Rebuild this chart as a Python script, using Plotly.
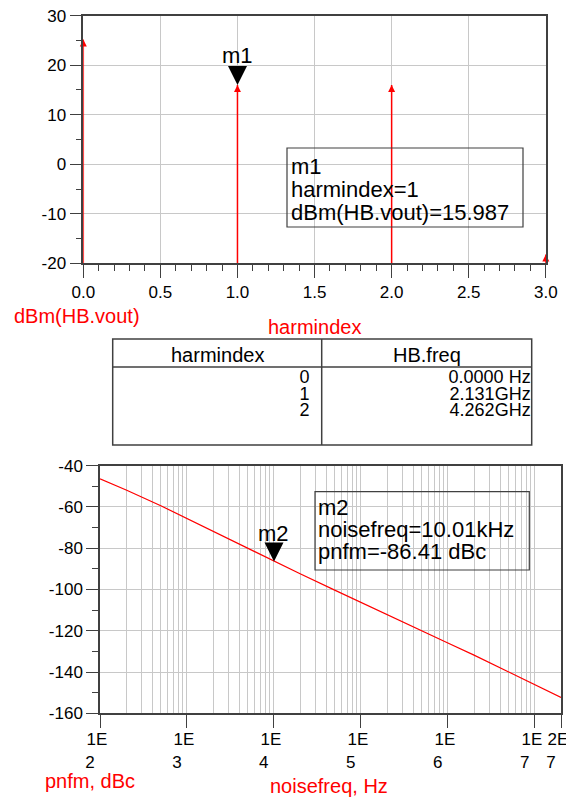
import math
import plotly.graph_objects as go

# ---------------- data ----------------
harmindex = [0, 1, 2, 3]
dbm_vout = [25.2, 15.987, 16.0, -18.2]

table_harm = [0, 1, 2]
table_freq = ["0.0000 Hz", "2.131GHz", "4.262GHz"]

noisefreq = [100, 200, 500, 1000, 2000, 5000, 10010, 20000, 50000,
             1e5, 2e5, 5e5, 1e6, 2e6, 5e6, 1e7, 2e7]
pnfm = [-46.4, -51.8, -59.4, -65.6, -71.8, -79.8, -86.41, -92.4, -100.3,
        -106.3, -112.0, -120.0, -125.9, -131.8, -139.8, -146.1, -152.3]

m1_x, m1_y = 1, 15.987
m2_x, m2_y = 10010, -86.41

top_xticks = [0, 0.5, 1.0, 1.5, 2.0, 2.5, 3.0]
top_yticks = [-20, -10, 0, 10, 20, 30]
bottom_yticks = [-160, -140, -120, -100, -80, -60, -40]
bottom_xticks = [1e2, 1e3, 1e4, 1e5, 1e6, 1e7, 2e7]
bottom_xticktext = ["1E<br>2", "1E<br>3", "1E<br>4", "1E<br>5", "1E<br>6", "1E<br>7", "2E<br>7"]

# ---------------- helpers ----------------
W, H = 566, 799
FONT = "Liberation Sans, Arial, sans-serif"
RED = "#ff0000"
AX = "#404040"
GRID = "#c8c8c8"


def px(x):
    return x / W


def py(y):
    return 1 - y / H


def pad_label(s):
    # left-align the exponent line under the mantissa, as in the reference
    a, b = s.split("<br>")
    return a + "<br>" + b + "\u00a0\u00a0\u00a0"


fig = go.Figure()

# ---------------- top: harmonic spectrum ----------------
ymin_top = -20
sx, sy = [], []
for h, v in zip(harmindex, dbm_vout):
    sx += [h, h, None]
    sy += [ymin_top, v, None]
fig.add_trace(go.Scatter(x=sx, y=sy, mode="lines", line=dict(color=RED, width=1.5),
                         xaxis="x", yaxis="y", showlegend=False, cliponaxis=False,
                         hoverinfo="skip"))
fig.add_trace(go.Scatter(x=harmindex, y=dbm_vout, mode="markers",
                         marker=dict(symbol="arrow-up", size=7, color=RED),
                         xaxis="x", yaxis="y", showlegend=False, cliponaxis=False))
fig.add_trace(go.Scatter(x=[m1_x], y=[m1_y], mode="markers",
                         marker=dict(symbol="arrow-down", size=19, color="black"),
                         xaxis="x", yaxis="y", showlegend=False, cliponaxis=False))

# ---------------- bottom: phase noise ----------------
fig.add_trace(go.Scatter(x=noisefreq, y=pnfm, mode="lines", line=dict(color=RED, width=1.2),
                         xaxis="x2", yaxis="y2", showlegend=False))
fig.add_trace(go.Scatter(x=[m2_x], y=[m2_y], mode="markers",
                         marker=dict(symbol="arrow-down", size=19, color="black"),
                         xaxis="x2", yaxis="y2", showlegend=False, cliponaxis=False))

# ---------------- table ----------------
fig.add_trace(go.Scatter(x=[0.94] * len(table_harm), y=table_harm, mode="text",
                         text=[str(h) for h in table_harm], textposition="middle left",
                         textfont=dict(family=FONT, size=18, color="black"),
                         xaxis="x3", yaxis="y3", showlegend=False, cliponaxis=False))
fig.add_trace(go.Scatter(x=[1.995] * len(table_freq), y=table_harm, mode="text",
                         text=table_freq, textposition="middle left",
                         textfont=dict(family=FONT, size=18, color="black"),
                         xaxis="x3", yaxis="y3", showlegend=False, cliponaxis=False))

common_axis = dict(showline=True, mirror=True, linecolor=AX, linewidth=1.5,
                   gridcolor=GRID, gridwidth=1, zeroline=False, ticks="outside",
                   tickcolor=AX, tickwidth=1, automargin=False, tickangle=0,
                   tickfont=dict(family=FONT, size=17, color="black"))

fig.update_layout(
    width=W, height=H, margin=dict(l=0, r=0, t=0, b=0, autoexpand=False),
    paper_bgcolor="white", plot_bgcolor="white",
    showlegend=False,
    xaxis=dict(domain=[px(83.3), px(545.8)], range=[0, 3], anchor="y",
               tickmode="array", tickvals=top_xticks,
               ticktext=["%.1f" % t for t in top_xticks], ticklen=13,
               minor=dict(tickmode="linear", tick0=0, dtick=0.1, ticks="outside", ticklen=6,
                          tickcolor=AX, showgrid=False),
               **common_axis),
    yaxis=dict(domain=[py(263.3), py(15.7)], range=[-20, 30], anchor="x",
               tickmode="array", tickvals=top_yticks,
               ticktext=[str(t) for t in top_yticks], ticklen=12,
               minor=dict(tickmode="linear", tick0=0, dtick=5, ticks="outside", ticklen=6,
                          tickcolor=AX, showgrid=False),
               **common_axis),
    xaxis2=dict(domain=[px(100), px(561)], type="log",
                range=[2, math.log10(2e7) + 1e-9], anchor="y2",
                tickmode="array", tickvals=bottom_xticks,
                ticktext=[pad_label(s) for s in bottom_xticktext], ticklen=13,
                ticklabeloverflow="allow", ticklabelstandoff=-3, ticklabelshift=-3,
                minor=dict(tickmode="array",
                           tickvals=[m * 10 ** e for e in range(2, 8) for m in range(2, 10)
                                     if m * 10 ** e < 2e7],
                           ticks="", showgrid=True, gridcolor=GRID, gridwidth=1),
                **common_axis),
    yaxis2=dict(domain=[py(713.3), py(465.7)], range=[-160, -40], anchor="x2",
                tickmode="array", tickvals=bottom_yticks,
                ticktext=[str(t) for t in bottom_yticks], ticklen=12,
                minor=dict(tickmode="linear", tick0=0, dtick=10, ticks="outside", ticklen=6,
                           tickcolor=AX, showgrid=False),
                **common_axis),
    xaxis3=dict(domain=[px(112.7), px(531.7)], range=[0, 2], anchor="y3",
                visible=False, fixedrange=True, automargin=False),
    yaxis3=dict(domain=[py(445), py(339)],
                range=[(445 - 378.5) / 16.5, -(378.5 - 339) / 16.5], anchor="x3",
                visible=False, fixedrange=True, automargin=False),
)

shapes = []
# table borders
shapes.append(dict(type="rect", xref="x3 domain", yref="y3 domain", x0=0, x1=1, y0=0, y1=1,
                   line=dict(color=AX, width=1.5)))
shapes.append(dict(type="line", xref="x3 domain", yref="paper", x0=0, x1=1,
                   y0=py(367), y1=py(367), line=dict(color=AX, width=1.5)))
shapes.append(dict(type="line", xref="paper", yref="y3 domain", x0=px(321.7), x1=px(321.7),
                   y0=0, y1=1, line=dict(color=AX, width=1.5)))
# marker boxes
shapes.append(dict(type="rect", xref="paper", yref="paper", x0=px(287), x1=px(523),
                   y0=py(227), y1=py(148), line=dict(color=AX, width=1.2)))
shapes.append(dict(type="rect", xref="paper", yref="paper", x0=px(315), x1=px(529.3),
                   y0=py(570), y1=py(491.7), line=dict(color=AX, width=1.2)))
fig.update_layout(shapes=shapes)

ann = []


def text(x, y, s, size, color="black", xanchor="left"):
    ann.append(dict(x=px(x), y=py(y), xref="paper", yref="paper", text=s, showarrow=False,
                    xanchor=xanchor, yanchor="middle",
                    font=dict(family=FONT, size=size, color=color)))


# axis titles
text(76.7, 316, "dBm(HB.vout)", 20, RED, "center")
text(314.7, 327, "harmindex", 20, RED, "center")
text(90, 781, "pnfm, dBc", 20, RED, "center")
text(329, 786, "noisefreq, Hz", 20, RED, "center")

# table header
text(217, 355, "harmindex", 20, "black", "center")
text(427, 355, "HB.freq", 20, "black", "center")

# marker box m1
text(289, 166, "m1", 22)
text(289, 189, "harmindex=1", 22)
text(289, 212, "dBm(HB.vout)=15.987", 22)
# marker box m2
text(316, 507, "m2", 22)
text(316, 529, "noisefreq=10.01kHz", 22)
text(316, 551, "pnfm=-86.41 dBc", 22)

# marker labels
ann.append(dict(x=m1_x, y=m1_y, xref="x", yref="y", text="m1", showarrow=False,
                yshift=30, font=dict(family=FONT, size=22, color="black")))
ann.append(dict(x=math.log10(m2_x), y=m2_y, xref="x2", yref="y2", text="m2", showarrow=False,
                yshift=28, font=dict(family=FONT, size=22, color="black")))

fig.update_layout(annotations=ann)

fig.write_html("out.html", config={"displayModeBar": False},
               post_script="document.body.style.margin='0px';document.body.style.overflow='hidden';")
